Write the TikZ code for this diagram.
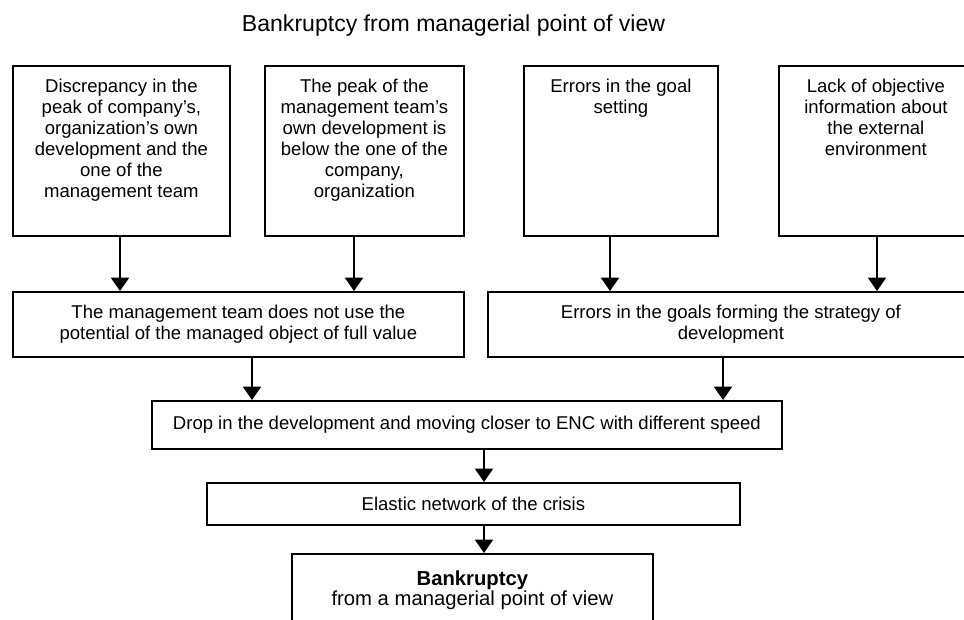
\documentclass[tikz,border=0pt]{standalone}
\usepackage{fontspec}
\setmainfont{Liberation Sans}
\usetikzlibrary{arrows.meta}
\begin{document}
\begin{tikzpicture}[x=0.75pt,y=-0.75pt,
  box/.style={draw,line width=1.35pt,inner sep=0pt,anchor=north west},
  txt/.style={align=center,inner sep=0pt,font=\fontsize{13.9}{15.75}\selectfont},
  arr/.style={line width=1.3pt,-{Triangle[width=13.5pt,length=10pt]}}]
\useasboundingbox (0,0) rectangle (964,619);
\clip (0,0) rectangle (964,619);
% title
\node[anchor=base,inner sep=0pt,font=\fontsize{17.3}{20}\selectfont] (title) at (453.5,31) {Bankruptcy from managerial point of view};
% top boxes
\node[box,minimum width=162.75pt,minimum height=127.5pt] (b1) at (12,65) {};
\node[box,minimum width=149.25pt,minimum height=127.5pt] (b2) at (264,65) {};
\node[box,minimum width=145.5pt,minimum height=127.5pt] (b3) at (523,65) {};
\node[box,minimum width=145.5pt,minimum height=127.5pt] (b4) at (778,65) {};
\node[txt,anchor=north] (t1) at ([yshift=-10.6pt]b1.north) {Discrepancy in the\\peak of company’s,\\organization’s own\\development and the\\one of the\\management team};
\node[txt,anchor=north] (t2) at ([yshift=-10.6pt]b2.north) {The peak of the\\management team’s\\own development is\\below the one of the\\company,\\organization};
\node[txt,anchor=north] (t3) at ([yshift=-10.6pt]b3.north) {Errors in the goal\\setting};
\node[txt,anchor=north] (t4) at ([yshift=-10.6pt]b4.north) {Lack of objective\\information about\\the external\\environment};
% middle boxes
\node[box,txt,minimum width=338.25pt,minimum height=48.75pt] (b5) at (12,291) {The management team does not use the\\potential of the managed object of full value};
\node[box,txt,minimum width=364.5pt,minimum height=48.75pt] (b6) at (487,291) {Errors in the goals forming the strategy of\\development};
\node[box,txt,minimum width=472.5pt,minimum height=36pt] (b7) at (151,400) {Drop in the development and moving closer to ENC with different speed};
\node[box,txt,minimum width=399.75pt,minimum height=31.5pt] (b8) at (206,482) {Elastic network of the crisis};
\node[box,minimum width=270.75pt,minimum height=60pt] (b9) at (291,553) {};
\node[txt,anchor=north,font=\fontsize{15.2}{15.3}\selectfont] (t9) at ([yshift=-12.8pt]b9.north) {\textbf{Bankruptcy}\\from a managerial point of view};
% arrow x positions
\coordinate (a1) at (120,0);
\coordinate (a2) at (354,0);
\coordinate (a3) at (610,0);
\coordinate (a4) at (877,0);
\coordinate (a5) at (252,0);
\coordinate (a6) at (723,0);
\coordinate (a7) at (484,0);
% connectors
\draw[arr] (b1.south -| a1) -- (b5.north -| a1);
\draw[arr] (b2.south -| a2) -- (b5.north -| a2);
\draw[arr] (b3.south -| a3) -- (b6.north -| a3);
\draw[arr] (b4.south -| a4) -- (b6.north -| a4);
\draw[arr] (b5.south -| a5) -- (b7.north -| a5);
\draw[arr] (b6.south -| a6) -- (b7.north -| a6);
\draw[arr] (b7.south -| a7) -- (b8.north -| a7);
\draw[arr] (b8.south -| a7) -- (b9.north -| a7);
\end{tikzpicture}
\end{document}
